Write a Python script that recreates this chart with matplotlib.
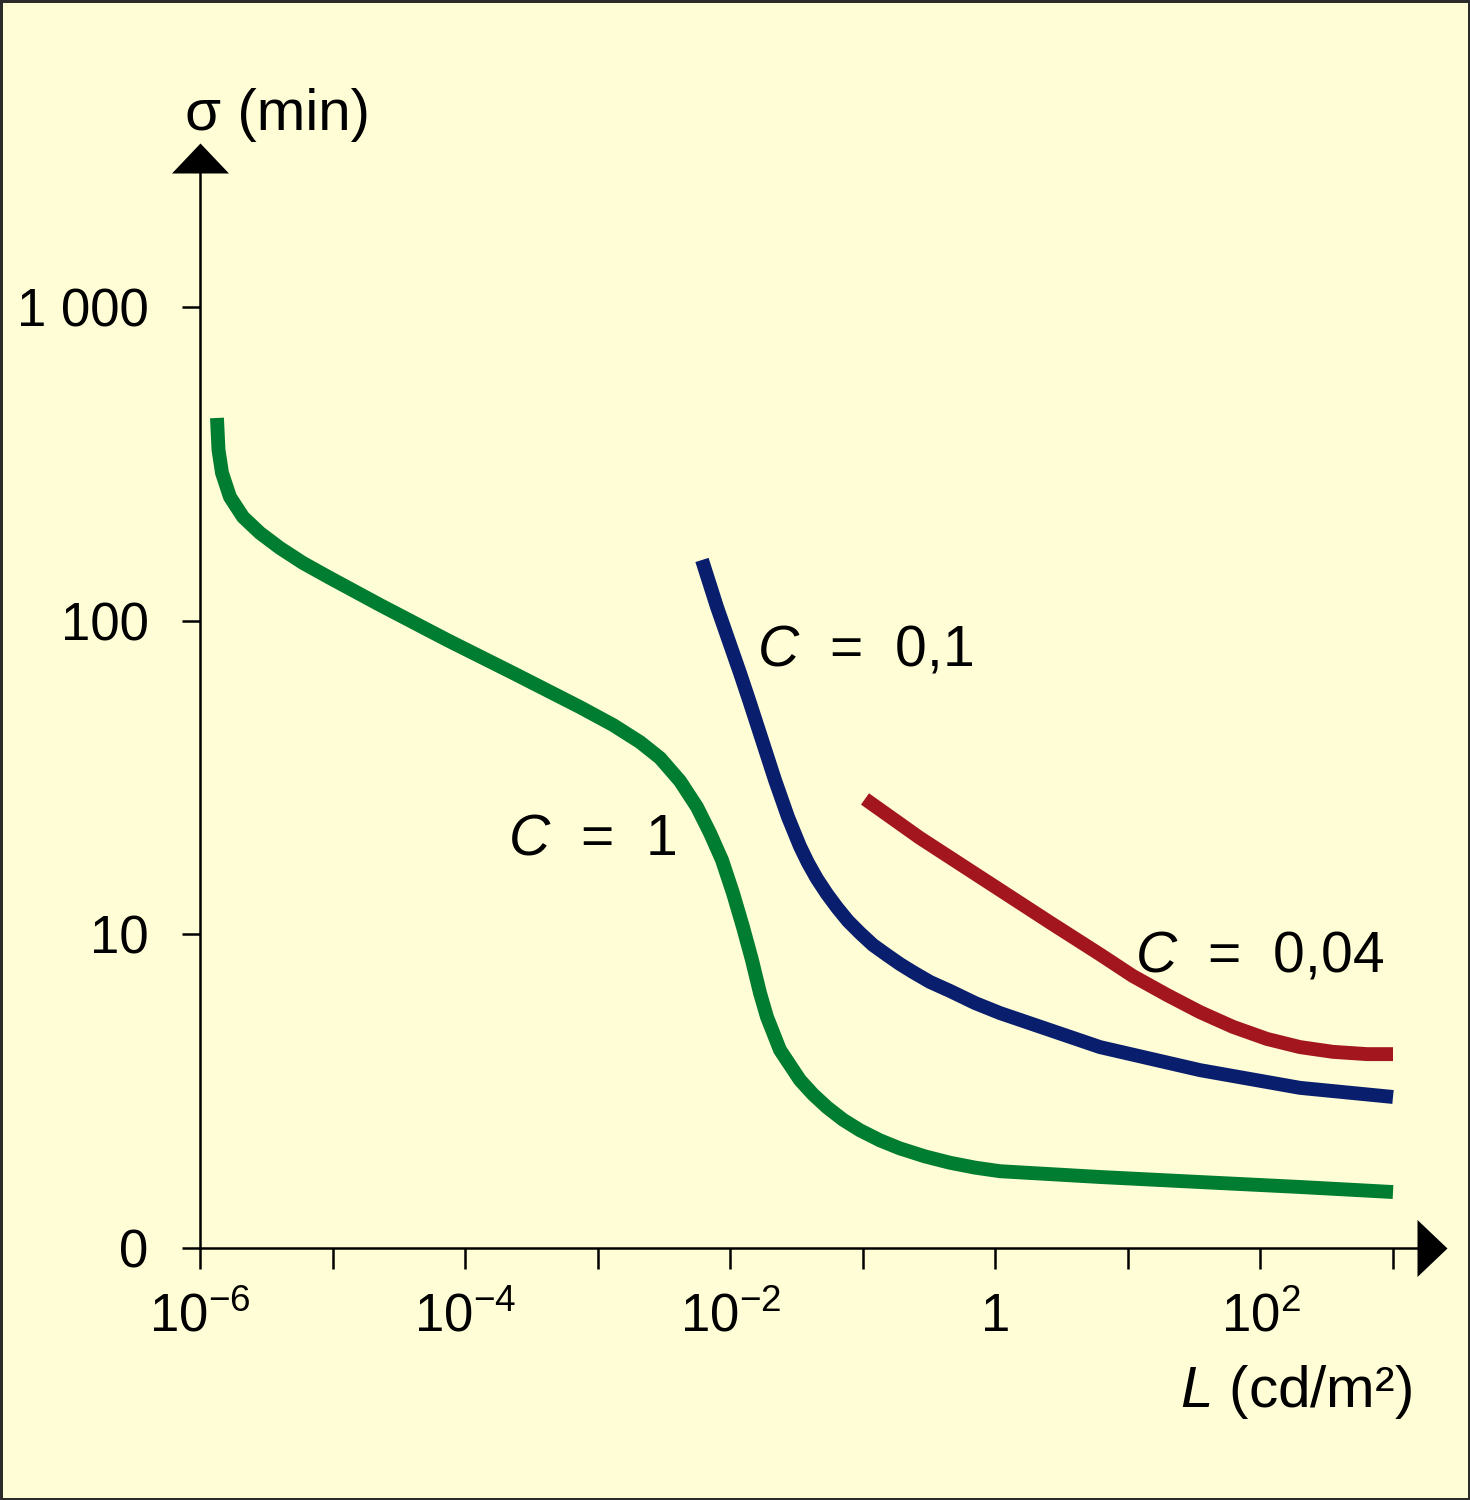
# %%
from matplotlib import pyplot as plt
from matplotlib.ticker import NullFormatter, NullLocator

plt.rcParams['font.family'] = ['Liberation Sans', 'DejaVu Sans']
plt.rcParams['mathtext.fontset'] = 'custom'
plt.rcParams['mathtext.rm'] = 'Liberation Sans'
plt.rcParams['mathtext.it'] = 'Liberation Sans:italic'
plt.rcParams['mathtext.bf'] = 'Liberation Sans:bold'

# %% values (L in cd/m2, sigma in min)
L_c1 = [1.343e-6, 1.379e-6, 1.466e-6, 1.683e-6, 2.111e-6, 2.835e-6, 4.013e-6,
        5.984e-6, 9.565e-6, 2.280e-5, 7.30e-5, 2.297e-4, 7.354e-4, 1.305e-3,
        2.086e-3, 2.952e-3, 4.178e-3, 5.613e-3, 7.036e-3, 8.665e-3, 1.049e-2,
        1.248e-2, 1.459e-2, 1.677e-2, 1.894e-2, 2.373e-2, 3.359e-2, 4.210e-2,
        5.369e-2, 7.087e-2, 9.526e-2, 0.1348, 0.1908, 0.2945, 0.4547, 0.7023,
        1.084, 6.157, 34.98, 198.7, 1000]
sigma_c1 = [442.7, 350.1, 295.7, 247.9, 214.0, 190.3, 170.4, 152.7, 136.8,
            112.2, 86.8, 68.1, 53.0, 46.5, 41.0, 36.49, 30.82, 25.46, 21.04,
            17.26, 13.54, 10.55, 8.28, 6.50, 5.45, 4.28, 3.43, 3.090, 2.810,
            2.565, 2.373, 2.204, 2.077, 1.959, 1.870, 1.804, 1.757, 1.684,
            1.623, 1.565, 1.508]

L_c01 = [6.124e-3, 7.946e-3, 1.185e-2, 1.385e-2, 1.737e-2, 2.176e-2, 2.727e-2,
         3.359e-2, 3.860e-2, 4.513e-2, 5.369e-2, 6.388e-2, 7.734e-2, 9.526e-2,
         0.1193, 0.1523, 0.1908, 0.2391, 0.3213, 0.4547, 0.7023, 1.084,
         6.157, 34.98, 198.7, 1000]
sigma_c01 = [156.1, 110.5, 68.1, 55.9, 41.65, 31.05, 23.66, 19.07, 16.90,
             15.03, 13.45, 12.18, 11.03, 10.10, 9.25, 8.59, 8.04, 7.58, 7.05,
             6.60, 6.04, 5.61, 4.37, 3.69, 3.24, 3.03]

L_c004 = [0.1039, 0.2701, 1.084, 2.584, 6.157, 10.92, 19.71, 34.98, 62.03,
          112.0, 198.7, 352.5, 636.2, 1000]
sigma_c004 = [27.01, 20.28, 13.85, 10.91, 8.63, 7.36, 6.41, 5.65, 5.07, 4.64,
              4.37, 4.22, 4.15, 4.15]

curve_labels = ["$C$  =  1", "$C$  =  0,1", "$C$  =  0,04"]
label_L = [2.11e-4, 1.59e-2, 11.3]
label_sigma = [17.9, 71.7, 7.59]

x_major = [1e-6, 1e-4, 1e-2, 1, 1e2]
x_major_labels = ["$10^{-6}$", "$10^{-4}$", "$10^{-2}$", "1", "$10^{2}$"]
x_minor = [1e-5, 1e-3, 1e-1, 10, 1e3]
y_ticks = [1, 10, 100, 1000]
y_tick_labels = ["0", "10", "100", "1 000"]

# %%
bg = '#FFFDD6'
green = '#007D30'
blue = '#0A1E6E'
red = '#A3161E'

fig = plt.figure(figsize=(14.7, 15), dpi=100)
fig.patch.set_facecolor(bg)
fig.patch.set_edgecolor('#2b2b2b')
fig.patch.set_linewidth(2.5)

ax = fig.add_axes([200 / 1470, 252 / 1500, 1217 / 1470, 1075 / 1500])
ax.set_facecolor(bg)
ax.set_xscale('log')
ax.set_yscale('log')
ax.set_xlim(1e-6, 10 ** 3.181)
ax.set_ylim(1, 10 ** 3.427)

for L, s, c in [(L_c1, sigma_c1, green), (L_c01, sigma_c01, blue),
                (L_c004, sigma_c004, red)]:
    ax.plot(L, s, color=c, lw=10, solid_capstyle='butt',
            solid_joinstyle='round', zorder=2)

for txt, xl, yl in zip(curve_labels, label_L, label_sigma):
    ax.text(xl, yl, txt, fontsize=41, ha='left', va='baseline', zorder=3)

# axes / ticks
for side in ['top', 'right']:
    ax.spines[side].set_visible(False)
for side in ['left', 'bottom']:
    ax.spines[side].set_linewidth(1.8)

ax.set_xticks(x_major, labels=x_major_labels)
ax.set_xticks(x_minor, minor=True)
ax.xaxis.set_minor_formatter(NullFormatter())
ax.set_yticks(y_ticks, labels=y_tick_labels)
ax.yaxis.set_minor_locator(NullLocator())

ax.tick_params(axis='x', which='both', direction='out', length=15, width=1.8,
               pad=45, labelsize=38)
ax.tick_params(axis='y', which='both', direction='out', length=13, width=1.8,
               pad=24, labelsize=38)
for lbl in ax.get_xticklabels():
    lbl.set_verticalalignment('baseline')

# arrow heads at the end of the axes
arrow_right = [(0, -28.5), (30, 0), (0, 28.5)]
arrow_up = [(-28.5, 0), (0, 30), (28.5, 0)]
ax.plot([1], [0], marker=arrow_right, ms=43.2, mew=0, color='k',
        transform=ax.transAxes, clip_on=False)
ax.plot([0], [1], marker=arrow_up, ms=43.2, mew=0, color='k',
        transform=ax.transAxes, clip_on=False)

fig.text(185 / 1470, 1 - 130 / 1500, "σ (min)", fontsize=42,
         ha='left', va='baseline')
fig.text(1412 / 1470, 1 - 1407 / 1500, "$L$ (cd/m²)", fontsize=42,
         ha='right', va='baseline')

fig.savefig('out.png', dpi=100, facecolor=fig.get_facecolor(),
            edgecolor=fig.get_edgecolor())
